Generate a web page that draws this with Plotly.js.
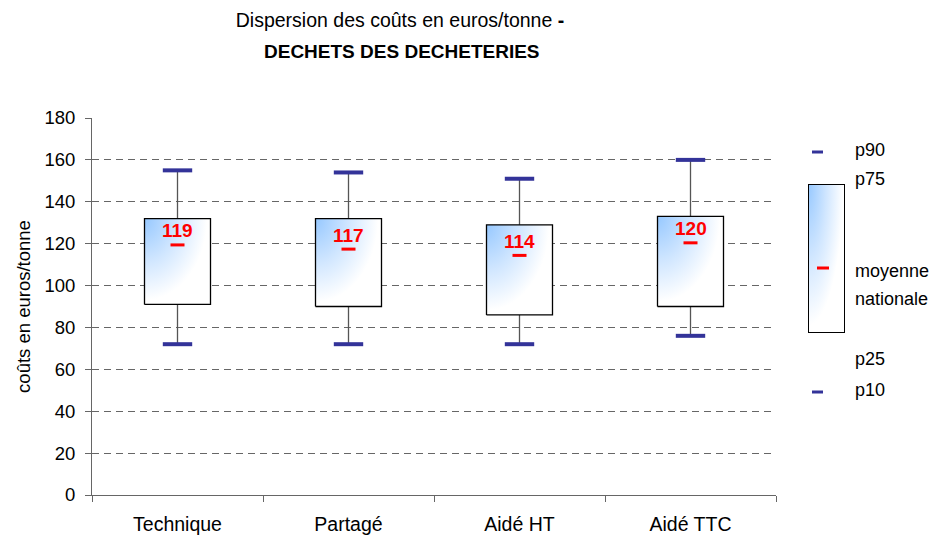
<!DOCTYPE html>
<html><head><meta charset="utf-8">
<script src="https://cdn.plot.ly/plotly-3.0.1.min.js"></script>
<style>html,body{margin:0;padding:0;background:#fff}#chart{width:941px;height:537px}</style>
</head><body><div id="chart"></div>
<script>
// ---- data ----
const categories = ['Technique', 'Partagé', 'Aidé HT', 'Aidé TTC'];
const p10 = [72, 72, 72, 76];
const p25 = [91, 90, 86, 90];
const p75 = [132, 132, 129, 133];
const p90 = [155, 154, 151, 160];
const moyenne = [119.4, 117.4, 114.4, 120.4];
const yTicks = [0, 20, 40, 60, 80, 100, 120, 140, 160, 180];
const legendLabels = ['p90', 'p75', 'moyenne', 'nationale', 'p25', 'p10'];

// ---- style ----
const FONT = 'Arial, "Liberation Sans", sans-serif';
const HW = 0.193;
const NAVY = '#333399';
const RED = '#ff0000';
const gradScale = [[0, 'rgb(150,200,255)'], [0.5, 'rgb(208,230,255)'], [0.95, 'rgb(255,255,255)'], [1, 'rgb(255,255,255)']];

const idx = categories.map((c, i) => i);

// polygon of the box plus a zero-area spike so the radial gradient centre sits on the top-left corner
function spikeBox(xl, xr, yb, yt) {
  const w = xr - xl, h = yt - yb;
  return { x: [xl, xl, xl - w, xl, xr, xr, xl], y: [yb, yt, yt + h, yt, yt, yb, yb] };
}

const traces = [];
const wx = [], wy = [];
idx.forEach(i => { wx.push(i, i, null); wy.push(p10[i], p90[i], null); });
traces.push({ type: 'scatter', mode: 'lines', x: wx, y: wy, line: { color: '#555', width: 1.3 }, hoverinfo: 'skip' });

idx.forEach(i => {
  const s = spikeBox(i - HW, i + HW, p25[i], p75[i]);
  traces.push({ type: 'scatter', mode: 'none', x: s.x, y: s.y, fill: 'toself',
    fillcolor: 'rgb(150,200,255)', fillgradient: { type: 'radial', colorscale: gradScale },
    line: { width: 0, simplify: false }, hoverinfo: 'skip' });
});

const ox = [], oy = [];
idx.forEach(i => {
  ox.push(i - HW, i - HW, i + HW, i + HW, i - HW, null);
  oy.push(p25[i], p75[i], p75[i], p25[i], p25[i], null);
});
traces.push({ type: 'scatter', mode: 'lines', x: ox, y: oy, line: { color: '#000', width: 1.3 }, hoverinfo: 'skip' });

traces.push({ type: 'scatter', mode: 'markers', x: idx.concat(idx), y: p90.concat(p10),
  marker: { symbol: 'line-ew', size: 21, color: NAVY, line: { color: NAVY, width: 4 } }, hoverinfo: 'skip' });

traces.push({ type: 'scatter', mode: 'markers', x: idx, y: moyenne,
  marker: { symbol: 'line-ew', size: 10, color: RED, line: { color: RED, width: 3 } }, hoverinfo: 'skip' });

// legend box (on its own small axes)
const lb = spikeBox(0, 1, 0, 1);
traces.push({ type: 'scatter', mode: 'none', x: lb.x, y: lb.y, xaxis: 'x2', yaxis: 'y2', fill: 'toself',
  fillcolor: 'rgb(150,200,255)', fillgradient: { type: 'radial', colorscale: gradScale },
  line: { width: 0, simplify: false }, hoverinfo: 'skip' });
traces.push({ type: 'scatter', mode: 'lines', x: [0, 0, 1, 1, 0], y: [0, 1, 1, 0, 0], xaxis: 'x2', yaxis: 'y2',
  line: { color: '#000', width: 2 }, hoverinfo: 'skip' });

const W = 839, H = 377, L = 92, B = 495;
const px = v => (v - L) / W, py = v => (B - v) / H;
const legY = [150, 179, 271, 299, 359, 390];
const annotations = legendLabels.map((t, k) => ({ text: t, xref: 'paper', yref: 'paper', x: px(853), y: py(legY[k]),
  xanchor: 'left', yanchor: 'middle', showarrow: false, font: { size: 18, color: '#000' } }));
annotations.push({ text: '<b>DECHETS DES DECHETERIES</b>', xref: 'paper', yref: 'paper', x: px(402), y: py(51),
  xanchor: 'center', yanchor: 'middle', showarrow: false, font: { size: 19, color: '#000' } });
// mean value labels above the red marks
idx.forEach(i => annotations.push({ text: '<b>' + Math.round(moyenne[i]) + '</b>', xref: 'x', yref: 'y',
  x: i, y: moyenne[i], xanchor: 'center', yanchor: 'middle', yshift: 14, showarrow: false,
  font: { family: FONT, size: 19, color: RED } }));

const shapes = [
  { type: 'line', xref: 'paper', yref: 'paper', x0: px(812), x1: px(823), y0: py(152), y1: py(152), line: { color: NAVY, width: 3 } },
  { type: 'line', xref: 'paper', yref: 'paper', x0: px(812), x1: px(823), y0: py(392), y1: py(392), line: { color: NAVY, width: 3 } },
  { type: 'line', xref: 'paper', yref: 'paper', x0: px(817), x1: px(829), y0: py(268), y1: py(268), line: { color: RED, width: 3 } }
];

const layout = {
  width: 941, height: 537, margin: { l: 92, r: 10, t: 118, b: 42 },
  paper_bgcolor: '#fff', plot_bgcolor: '#fff', showlegend: false,
  font: { family: FONT, color: '#000' },
  title: { text: 'Dispersion des coûts en euros/tonne <b>-</b>', xref: 'container', x: 400 / 941, xanchor: 'center',
    yref: 'container', y: 1 - 20 / 537, yanchor: 'middle', font: { size: 19.5, color: '#000' } },
  xaxis: { domain: [0, 684 / 839], range: [-0.5, 3.5], tickvals: idx, ticktext: categories, ticks: '',
    showgrid: false, zeroline: false, showline: true, linecolor: '#666', linewidth: 1,
    tickfont: { size: 19.5 }, ticklabelstandoff: 12,
    minor: { tickvals: [-0.5, 0.5, 1.5, 2.5, 3.5], ticks: 'outside', ticklen: 6, tickcolor: '#666', showgrid: false },
    fixedrange: true },
  yaxis: { range: [0, 180], tickvals: yTicks, ticks: 'outside', ticklen: 6, tickcolor: '#666',
    showline: true, linecolor: '#666', linewidth: 1, showgrid: true, gridcolor: '#666', griddash: '7px,5px', gridwidth: 1,
    zeroline: false, tickfont: { size: 18.5 }, ticklabelstandoff: 6,
    title: { text: 'coûts en euros/tonne', font: { size: 18.5 }, standoff: 8 }, fixedrange: true },
  xaxis2: { domain: [px(808), px(845)], range: [0, 1], anchor: 'y2', visible: false, fixedrange: true },
  yaxis2: { domain: [py(333), py(184)], range: [0, 1], anchor: 'x2', visible: false, fixedrange: true },
  annotations: annotations,
  shapes: shapes
};

Plotly.newPlot('chart', traces, layout, { staticPlot: true, displayModeBar: false });
</script>
</body></html>
